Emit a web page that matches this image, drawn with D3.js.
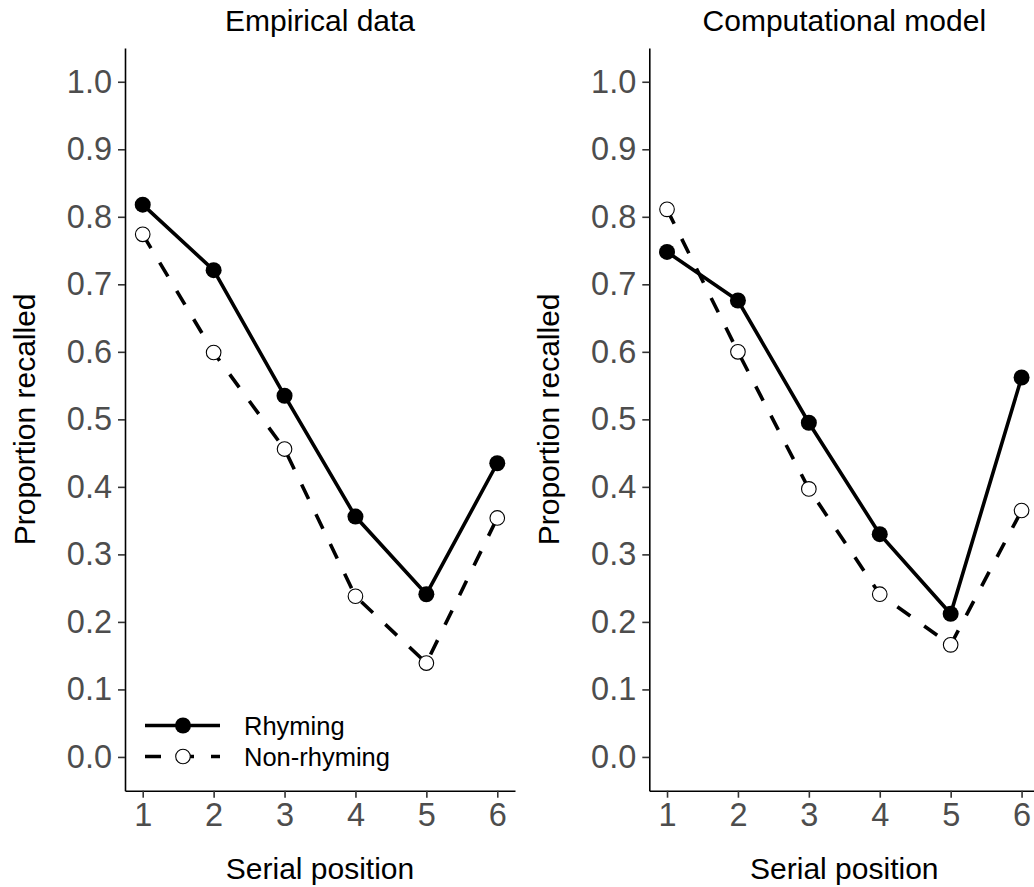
<!DOCTYPE html>
<html>
<head>
<meta charset="utf-8">
<script src="https://cdnjs.cloudflare.com/ajax/libs/d3/7.8.5/d3.min.js"></script>
<style>
  html, body { margin: 0; padding: 0; background: #fff; }
  svg { display: block; }
</style>
</head>
<body>
<svg width="1034" height="887"></svg>
<script>
var positions = [1, 2, 3, 4, 5, 6];
var panelTitles = ['Empirical data', 'Computational model'];
var seriesNames = ['Rhyming', 'Non-rhyming'];
var empiricalRhyming = [0.818, 0.721, 0.535, 0.356, 0.241, 0.435];
var empiricalNonRhyming = [0.774, 0.599, 0.456, 0.238, 0.139, 0.354];
var modelRhyming = [0.748, 0.676, 0.495, 0.330, 0.212, 0.562];
var modelNonRhyming = [0.811, 0.600, 0.397, 0.241, 0.166, 0.365];
var yTicks = [0, 0.1, 0.2, 0.3, 0.4, 0.5, 0.6, 0.7, 0.8, 0.9, 1.0];

var svg = d3.select('svg');
var font = '"Liberation Sans", Arial, sans-serif';

// plot box inside one facet; second facet is shifted right (and cropped by the window)
var plotLeft = 125;
var plotRight = 515;
var plotTop = 48;
var plotBottom = 790.7;
var panelShift = 524.3;
var lineWidth = 3.6;
var dashes = '16,17';

var x = d3.scaleLinear().domain([0.75, 6.25]).range([plotLeft, plotRight]);
var y = d3.scaleLinear().domain([-0.05, 1.05]).range([plotBottom, plotTop]);

var line = d3.line()
  .x(function(d){ return x(d.pos); })
  .y(function(d){ return y(d.val); });

function toPoints(values){
  return positions.map(function(p, i){ return { pos: p, val: values[i] }; });
}

function drawPanel(offset, title, rhyming, nonRhyming, withLegend){
  var g = svg.append('g').attr('transform', 'translate(' + offset + ',0)');

  g.append('text')
    .attr('x', (plotLeft + plotRight) / 2)
    .attr('y', 31)
    .attr('text-anchor', 'middle')
    .style('font-family', font)
    .style('font-size', '30px')
    .style('fill', '#000')
    .text(title);

  var yAxis = g.append('g')
    .attr('transform', 'translate(' + plotLeft + ',0)')
    .call(d3.axisLeft(y).tickValues(yTicks).tickFormat(d3.format('.1f'))
      .tickSize(7).tickSizeOuter(0).tickPadding(6));

  var xAxis = g.append('g')
    .attr('transform', 'translate(0,' + plotBottom + ')')
    .call(d3.axisBottom(x).tickValues(positions).tickFormat(d3.format('d'))
      .tickSize(7).tickSizeOuter(0).tickPadding(5));

  [yAxis, xAxis].forEach(function(ax){
    ax.select('.domain').attr('stroke', '#000').attr('stroke-width', 1.6);
    ax.selectAll('.tick line').attr('stroke', '#333').attr('stroke-width', 1.6);
    ax.selectAll('.tick text')
      .style('font-family', font)
      .style('font-size', '32.5px')
      .attr('fill', '#4d4d4d');
  });

  g.append('text')
    .attr('transform', 'translate(35,' + (plotTop + plotBottom) / 2 + ') rotate(-90)')
    .attr('text-anchor', 'middle')
    .style('font-family', font)
    .style('font-size', '30px')
    .style('fill', '#000')
    .text('Proportion recalled');

  g.append('text')
    .attr('x', (plotLeft + plotRight) / 2)
    .attr('y', 879)
    .attr('text-anchor', 'middle')
    .style('font-family', font)
    .style('font-size', '30px')
    .style('fill', '#000')
    .text('Serial position');

  var rData = toPoints(rhyming);
  var nData = toPoints(nonRhyming);

  g.append('path')
    .datum(nData)
    .attr('d', line)
    .attr('fill', 'none')
    .attr('stroke', '#000')
    .attr('stroke-width', lineWidth)
    .attr('stroke-dasharray', dashes);

  g.append('path')
    .datum(rData)
    .attr('d', line)
    .attr('fill', 'none')
    .attr('stroke', '#000')
    .attr('stroke-width', lineWidth);

  g.selectAll('circle.rhyming')
    .data(rData)
    .enter().append('circle')
    .attr('class', 'rhyming')
    .attr('cx', function(d){ return x(d.pos); })
    .attr('cy', function(d){ return y(d.val); })
    .attr('r', 8)
    .attr('fill', '#000');

  g.selectAll('circle.nonrhyming')
    .data(nData)
    .enter().append('circle')
    .attr('class', 'nonrhyming')
    .attr('cx', function(d){ return x(d.pos); })
    .attr('cy', function(d){ return y(d.val); })
    .attr('r', 7.3)
    .attr('fill', '#fff')
    .attr('stroke', '#000')
    .attr('stroke-width', 1.1);

  if(withLegend){
    // TODO: key positions read off the picture, not derived from the plot box
    var keyLeft = 145;
    var keyRight = 220;
    var keyMid = 183;
    var rowY = [725.5, 756.5];

    var key = g.append('g').attr('class', 'legend');
    seriesNames.forEach(function(name, i){
      key.append('line')
        .attr('x1', keyLeft).attr('x2', keyRight)
        .attr('y1', rowY[i]).attr('y2', rowY[i])
        .attr('stroke', '#000')
        .attr('stroke-width', lineWidth)
        .attr('stroke-dasharray', i === 1 ? dashes : null);
      key.append('circle')
        .attr('cx', keyMid)
        .attr('cy', rowY[i])
        .attr('r', i === 0 ? 8 : 7.3)
        .attr('fill', i === 0 ? '#000' : '#fff')
        .attr('stroke', i === 0 ? 'none' : '#000')
        .attr('stroke-width', 1.1);
      key.append('text')
        .attr('x', 244)
        .attr('y', rowY[i])
        .attr('dy', '0.36em')
        .style('font-family', font)
        .style('font-size', '25.5px')
        .style('fill', '#000')
        .text(name);
    });
  }
}

drawPanel(0, panelTitles[0], empiricalRhyming, empiricalNonRhyming, true);
drawPanel(panelShift, panelTitles[1], modelRhyming, modelNonRhyming, false);
</script>
</body>
</html>
